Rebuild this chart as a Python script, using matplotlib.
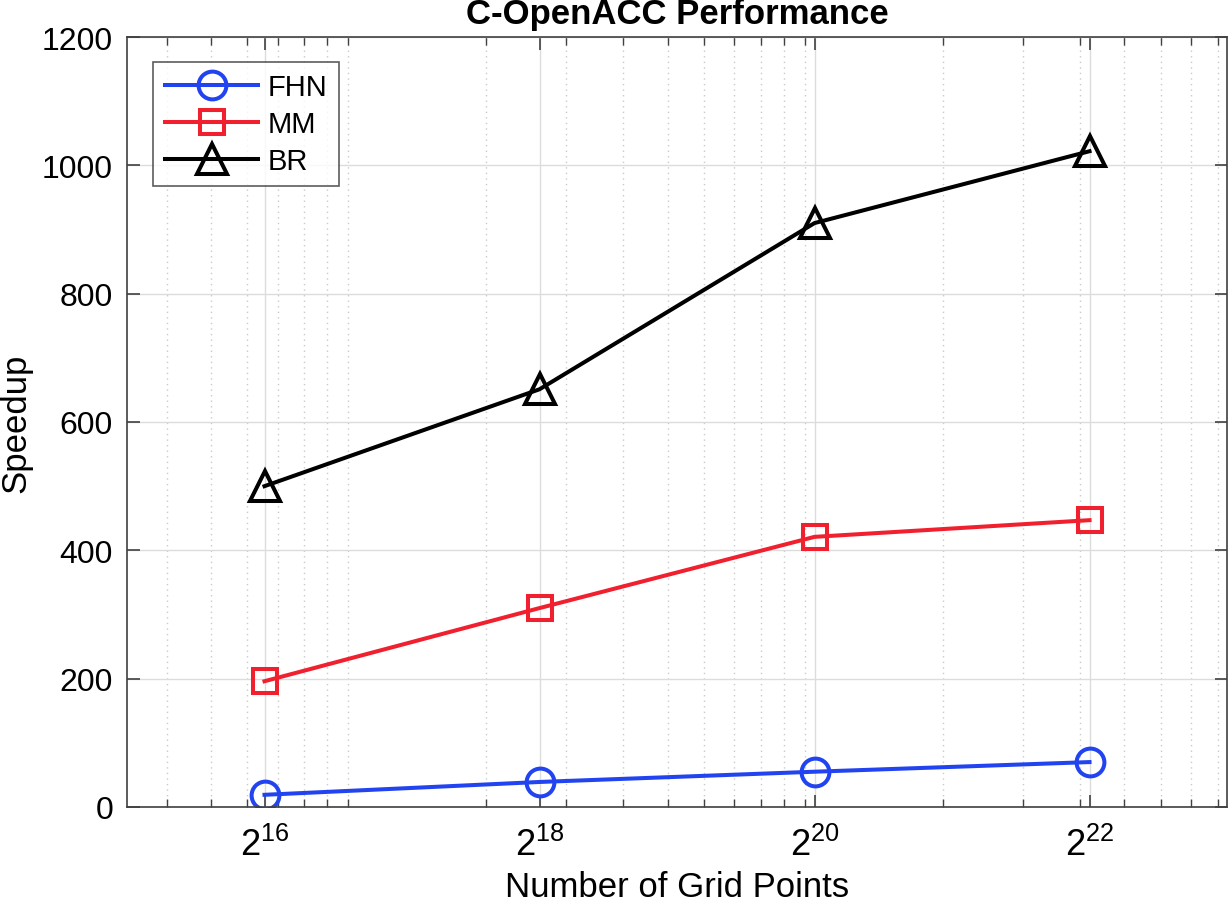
import matplotlib
matplotlib.use("Agg")
import matplotlib.pyplot as plt
from matplotlib.ticker import FixedLocator, LogLocator, NullFormatter
import numpy as np

plt.rcParams['font.family'] = ['Liberation Sans', 'DejaVu Sans']
plt.rcParams['mathtext.fontset'] = 'custom'
plt.rcParams['mathtext.rm'] = 'Liberation Sans'
plt.rcParams['mathtext.it'] = 'Liberation Sans'

# Data
exponents = [16, 18, 20, 22]
grid_points = [2 ** e for e in exponents]
tick_labels = [r'$\mathregular{2^{%d}}$' % e for e in exponents]
fhn = [19, 39, 55, 70]
mm = [196, 310, 421, 447]
br = [500, 651, 910, 1022]
series_names = ['FHN', 'MM', 'BR']

fig = plt.figure(figsize=(12.29, 9.04), dpi=100)
ax = fig.add_axes([127 / 1229, 96 / 904, (1227 - 127) / 1229, (808 - 38) / 904])

lw = 2.9
ax.plot(grid_points, fhn, color='#2244F0', lw=lw, marker='o', ms=20,
        mfc='none', mew=2.9, label=series_names[0])
ax.plot(grid_points, mm, color='#F0202E', lw=lw, marker='s', ms=17,
        mfc='none', mew=2.9, label=series_names[1])
ax.plot(grid_points, br, color='black', lw=lw, marker='^', ms=22,
        mfc='none', mew=2.9, label=series_names[2])

ax.set_xscale('log')
ax.set_xlim(2 ** 15, 2 ** 23)
ax.set_ylim(0, 1200)
ax.xaxis.set_major_locator(FixedLocator(grid_points))
ax.set_xticklabels(tick_labels)
ax.xaxis.set_minor_locator(LogLocator(base=10, subs=np.arange(1, 10), numticks=50))
ax.xaxis.set_minor_formatter(NullFormatter())
ax.set_yticks(np.arange(0, 1201, 200))

ax.grid(which='major', color='#dadddb', lw=1.0, ls='-')
ax.grid(which='minor', axis='x', color='#c8cbc9', lw=1.0, ls=(0, (1, 3)))
ax.set_axisbelow(True)

for s in ax.spines.values():
    s.set_color('#404040')
    s.set_linewidth(1.2)

ax.tick_params(which='both', direction='in', top=True, right=True,
               color='#404040')
ax.tick_params(axis='y', labelsize=23)
ax.tick_params(axis='x', labelsize=26)
ax.tick_params(which='major', length=9, width=1.2)
ax.tick_params(which='minor', length=6, width=1.0)
ax.tick_params(axis='x', which='major', pad=14)
ax.tick_params(axis='y', which='major', pad=10)

ax.set_xlabel('Number of Grid Points', fontsize=25, labelpad=5)
ax.set_ylabel('Speedup', fontsize=25, labelpad=7)
ax.set_title('C-OpenACC Performance', fontsize=25, fontweight='bold', pad=10)

leg = ax.legend(loc='upper left', bbox_to_anchor=(0.024, 0.968), fontsize=21,
                frameon=True, fancybox=False, edgecolor='#333333',
                handlelength=3.2, borderpad=0.4, labelspacing=0.3,
                handletextpad=0.3, borderaxespad=0)
leg.get_frame().set_linewidth(1.2)

fig.savefig('out.png', dpi=100)
